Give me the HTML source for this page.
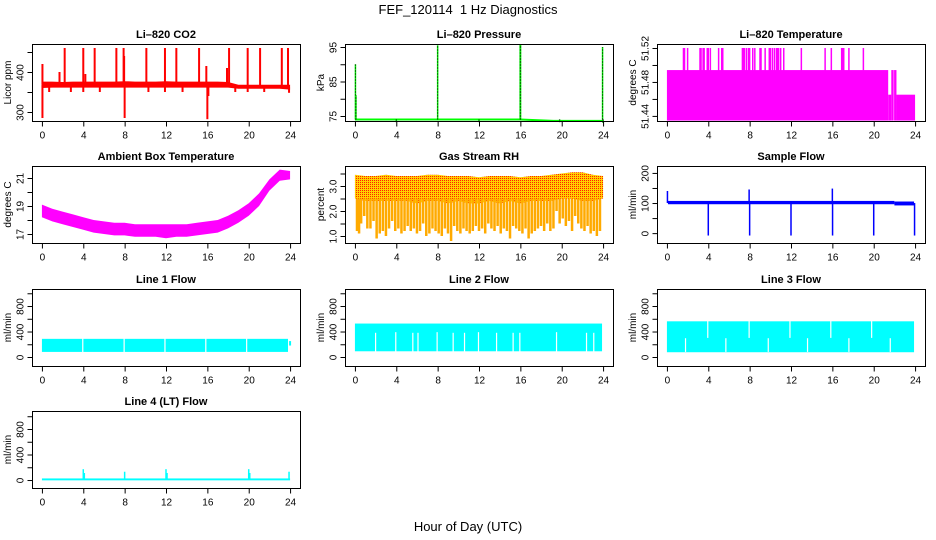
<!DOCTYPE html>
<html><head><meta charset="utf-8"><style>
html,body{margin:0;padding:0;background:#fff}
svg{display:block;font-family:"Liberation Sans",sans-serif}
</style></head><body>
<svg id="chart" width="936" height="540" viewBox="0 0 936 540" xmlns="http://www.w3.org/2000/svg">
<defs>
<pattern id="rhpat" width="2" height="2" patternUnits="userSpaceOnUse">
<rect width="2" height="2" fill="#ffd000"/><rect width="1" height="1" fill="#ff2000"/>
</pattern>
</defs>
<text x="468" y="14" font-size="13" text-anchor="middle">FEF_120114&#160; 1 Hz Diagnostics</text>
<text x="468" y="531" font-size="13" text-anchor="middle">Hour of Day (UTC)</text>
<g id="plots"></g>
</svg>
<script>
// ---- data ----
const xTicks = [0,4,8,12,16,20,24];
const hours = [0,1,2,3,4,5,6,7,8,9,10,11,12,13,14,15,16,17,18,19,20,21,22,23,24];
// CO2
const co2Lo = [360,361,361,361,361,361,361,361,361,361,361,361,361,361,361,361,361,361,361,358,358,358,358,358,356];
const co2Hi = [376,376,375,376,376,376,376,376,377,376,376,376,377,376,376,376,376,376,375,368,368,368,368,368,368];
const co2SpikeT = [0.05,0.05,0.7,1.7,2.2,2.8,4.0,4.0,4.2,5.1,5.6,7.2,7.9,7.95,8.0,10.1,10.3,11.9,11.9,13.0,13.6,15.2,15.9,16.0,16.1,17.9,18.1,18.7,19.9,19.9,21.1,21.5,23.2,23.8,23.9];
const co2SpikeV = [420,285,350,400,460,350,460,350,395,460,350,460,460,440,285,460,350,460,350,460,350,460,415,282,340,410,460,350,460,350,460,350,460,460,348];
// Pressure
const presT = [0,4,8,12,16,19.2,19.8,20.2,24];
const presV = [74.0,74.0,74.0,74.0,74.0,73.6,73.6,73.6,73.6];
const presSpikeT = [0.05,0.1,4.0,8.0,12.0,15.98,16.02,19.8,23.95,24.0];
const presSpikeV = [90,81,73.2,95.5,73.2,95.7,95.7,73.2,95,73];
// Li-820 temperature
const tempSegT0 = [0,21.4,21.7,21.97,22.2];
const tempSegT1 = [21.4,21.7,21.93,22.2,24];
const tempSegV = [51.494,51.465,51.494,51.494,51.465];
const tempSpikeT = [1.6,1.7,2.0,3.2,3.3,3.5,3.6,3.9,4.0,4.2,5.0,5.3,5.4,7.3,7.4,7.5,7.7,7.9,8.0,8.3,8.5,9.0,9.1,9.5,9.9,10.0,10.2,10.4,10.6,10.7,10.8,11.0,11.3,13.0,15.3,15.9,16.9,17.0,17.1,17.6,19.0];
// Ambient box temperature
const ambHi = [19.1,18.8,18.6,18.4,18.2,18.0,17.9,17.8,17.8,17.7,17.7,17.7,17.7,17.7,17.7,17.8,17.9,18.0,18.3,18.7,19.2,19.9,20.9,21.6,21.5];
const ambLo = [18.2,17.9,17.7,17.5,17.3,17.1,17.0,16.9,16.9,16.8,16.8,16.8,16.7,16.8,16.8,16.9,17.0,17.1,17.4,17.8,18.3,19.0,20.1,20.8,20.9];
// Gas stream RH
const rhHi = [3.45,3.4,3.4,3.45,3.4,3.4,3.4,3.45,3.45,3.4,3.4,3.4,3.35,3.4,3.4,3.4,3.35,3.4,3.4,3.45,3.5,3.55,3.55,3.45,3.4];
const rhCore = [2.5,2.4,2.4,2.4,2.4,2.4,2.3,2.4,2.4,2.3,2.4,2.3,2.3,2.4,2.3,2.4,2.3,2.4,2.4,2.4,2.5,2.5,2.4,2.4,2.5];
const rhDipT = [0.2,0.4,0.6,0.9,1.2,1.5,1.8,2.1,2.4,2.7,3.0,3.3,3.6,3.9,4.2,4.5,4.8,5.1,5.4,5.7,6.0,6.3,6.6,6.9,7.2,7.5,7.8,8.1,8.4,8.7,9.0,9.3,9.6,9.9,10.2,10.5,10.8,11.1,11.4,11.7,12.0,12.3,12.6,12.9,13.2,13.5,13.8,14.1,14.4,14.7,15.0,15.3,15.6,15.9,16.2,16.5,16.8,17.1,17.4,17.7,18.0,18.3,18.6,18.9,19.2,19.5,19.8,20.1,20.4,20.7,21.0,21.3,21.6,21.9,22.2,22.5,22.8,23.1,23.4,23.7];
const rhDipV = [1.2,1.1,1.5,1.8,1.3,1.3,1.6,0.9,1.1,1.2,1.0,1.3,1.6,1.2,1.3,1.1,1.2,1.4,1.2,1.3,1.1,1.2,1.5,1.0,1.1,1.3,1.2,1.1,1.0,1.3,1.1,0.8,1.4,1.2,1.1,1.3,1.2,1.1,1.2,1.4,1.2,1.3,1.1,1.5,1.3,1.2,1.4,1.1,1.3,1.2,0.9,1.4,1.3,1.2,1.1,1.3,0.9,1.1,1.2,1.3,1.4,1.2,1.5,1.2,1.3,2.0,1.5,1.7,1.4,1.6,1.2,1.8,1.5,1.3,1.2,1.4,1.1,1.2,1.0,1.2];
// Sample flow
const sfSegT0 = [0.1,22.0];
const sfSegT1 = [22.0,23.9];
const sfSegLo = [96,92];
const sfSegHi = [107,105];
const sfSpikeT = [0.05,4.0,7.95,8.0,12.0,16.0,16.02,20.0,23.95];
const sfSpikeV = [140,-8,145,-8,-8,148,-8,-8,-8];
// Line flows
const l1Lo = 80, l1Hi = 285;
const l1GapT = [3.95,7.95,11.9,15.85,19.8];
const l2Lo = 90, l2Hi = 525;
const l2GapT = [2.0,3.95,5.6,6.1,7.95,9.5,10.6,11.95,13.7,15.3,15.95,19.5,22.4,23.1];
const l2GapTop = [380,390,380,380,390,380,380,390,380,380,380,390,380,380];
const l3Lo = 75, l3Hi = 560;
const l3GapT = [3.95,7.95,11.9,15.85,19.8,1.8,5.7,9.8,13.6,17.6,21.6];
const l3GapBot = [300,300,300,300,300,80,80,80,80,80,80];
const l3GapTop = [560,560,560,560,560,290,290,290,290,290,290];
const l4SpikeT = [4.0,4.1,8.0,12.0,12.1,20.0,20.1,23.9];
const l4SpikeV = [170,110,130,170,110,170,110,130];

// ---- layout ----
const NS = 'http://www.w3.org/2000/svg';
const root = document.getElementById('plots');
const colL = [32,345,657], rowT = [44,166,289,411], W = 268, H = 77;
function mk(tag, attrs, parent){const e=document.createElementNS(NS,tag);for(const k in attrs)e.setAttribute(k,attrs[k]);(parent||root).appendChild(e);return e;}

function panel(name,col,row,title,ylab,ymin,ymax,ticks,labels){
  const g = mk('g',{});
  
  
  const L=colL[col], T=rowT[row];
  const X = t => L + (t+0.96)/25.92*W;
  const Y = v => T + H - (v-ymin)/(ymax-ymin)*H;
  const plot = mk('g',{},g);
  
  
  const fr = mk('rect',{x:L+0.5,y:T+0.5,width:W,height:H,fill:'none',stroke:'#000','stroke-width':1},g);
  
  
  const tt = mk('text',{x:L+W/2,y:T-6,'font-size':11,'font-weight':'bold','text-anchor':'middle'},g);
  
  
  tt.textContent = title;
  const xa = mk('g',{},g);
  
  
  const yb = T+H+0.5;
  mk('line',{x1:X(0),x2:X(24),y1:yb,y2:yb,stroke:'#000'},xa);
  xTicks.forEach(t=>{
    mk('line',{x1:X(t)+0.5,x2:X(t)+0.5,y1:yb,y2:yb+5,stroke:'#000'},xa);
    const lb = mk('text',{x:X(t)+0.5,y:yb+17,'font-size':10,'text-anchor':'middle'},xa);
    
    
    lb.textContent = t;
  });
  const ya = mk('g',{},g);
  
  
  const xl = L+0.5;
  mk('line',{x1:xl,x2:xl,y1:Y(ticks[0]),y2:Y(ticks[ticks.length-1]),stroke:'#000'},ya);
  ticks.forEach((v,i)=>{
    mk('line',{x1:xl-5,x2:xl,y1:Y(v)+0.5,y2:Y(v)+0.5,stroke:'#000'},ya);
    if(labels[i]!==''){
      const lb = mk('text',{x:0,y:0,'font-size':10,'text-anchor':'middle',transform:`translate(${xl-9},${Y(v)+0.5}) rotate(-90)`},ya);
      
      
      lb.textContent = labels[i];
    }
  });
  const yt = mk('text',{x:0,y:0,'font-size':10,'text-anchor':'middle',transform:`translate(${L-21},${T+H/2}) rotate(-90)`},ya);
  
  
  yt.textContent = ylab;
  return {X,Y,g:plot};
}
function seg(p,x1,y1,x2,y2,c,w,extra){const e=mk('line',Object.assign({x1,y1,x2,y2,stroke:c,'stroke-width':w||1},extra||{}),p.g);return e;}
function band(p,ts,lo,hi,fill){
  let d='M'+ts.map((t,i)=>p.X(t)+','+p.Y(hi[i])).join('L');
  for(let i=ts.length-1;i>=0;i--) d+='L'+p.X(ts[i])+','+p.Y(lo[i]);
  const e=mk('path',{d:d+'Z',fill:fill},p.g);
  return e;
}

// CO2
let p = panel('co2-panel',0,0,'Li\u2013820 CO2','Licor ppm',277.5,470,[300,350,400,450],['300','','400','']);
let e = band(p,hours,co2Lo,co2Hi,'#ff0000');

co2SpikeT.forEach((t,i)=>{
  const b=(co2Lo[Math.round(t)]+co2Hi[Math.round(t)])/2;
  const s=seg(p,p.X(t),p.Y(b),p.X(t),p.Y(co2SpikeV[i]),'#ff0000',2);
  
});
// Pressure
p = panel('pressure-panel',1,0,'Li\u2013820 Pressure','kPa',73.55,95.87,[75,80,85,90,95],['75','','85','','95']);
e = mk('polyline',{points:presT.map((t,i)=>p.X(t)+','+p.Y(presV[i])).join(' '),fill:'none',stroke:'#00ff00','stroke-width':2},p.g);

presSpikeT.forEach((t,i)=>{
  const s=seg(p,p.X(t),p.Y(74),p.X(t),p.Y(presSpikeV[i]),'#00ee00',1.5);
  
  const s2=seg(p,p.X(t),p.Y(74),p.X(t),p.Y(presSpikeV[i]),'#000',1,{'stroke-dasharray':'1 2'});
  
});
// Temperature
p = panel('li820-temp-panel',2,0,'Li\u2013820 Temperature','degrees C',51.434,51.5247,[51.44,51.46,51.48,51.50,51.52],['51.44','','51.48','','51.52']);
tempSegV.forEach((v,i)=>{
  const r=mk('rect',{x:p.X(tempSegT0[i]),y:p.Y(v),width:p.X(tempSegT1[i])-p.X(tempSegT0[i]),height:p.Y(51.4345)-p.Y(v),fill:'#ff00ff'},p.g);
  
});
tempSpikeT.forEach(t=>{
  const s=seg(p,p.X(t),p.Y(51.49),p.X(t),p.Y(51.52),'#ff00ff',1.5);
  
});
// Ambient
p = panel('ambient-temp-panel',0,1,'Ambient Box Temperature','degrees C',16.357,21.857,[17,18,19,20,21],['17','','19','','21']);
e = band(p,hours,ambLo,ambHi,'#ff00ff');

// RH
p = panel('rh-panel',1,1,'Gas Stream RH','percent',0.72,3.8,[1.0,1.5,2.0,2.5,3.0,3.5],['1.0','','2.0','','3.0','']);
e = band(p,hours,rhCore,rhHi,'url(#rhpat)');

rhDipT.forEach((t,i)=>{
  const s=seg(p,p.X(t),p.Y(2.5),p.X(t),p.Y(rhDipV[i]),'#ffaa00',2.5);
  
});
// Sample flow
p = panel('sample-flow-panel',2,1,'Sample Flow','ml/min',-32.8,223,[0,50,100,150,200],['0','','100','','200']);
sfSegLo.forEach((v,i)=>{
  const r=mk('rect',{x:p.X(sfSegT0[i]),y:p.Y(sfSegHi[i]),width:p.X(sfSegT1[i])-p.X(sfSegT0[i]),height:p.Y(v)-p.Y(sfSegHi[i]),fill:'#0000ff'},p.g);
  
});
sfSpikeT.forEach((t,i)=>{
  const s=seg(p,p.X(t),p.Y(100),p.X(t),p.Y(sfSpikeV[i]),'#0000ff',1.5);
  
});
const flowTicks=[0,200,400,600,800,1000], flowLabels=['0','','400','','800',''];
// Line 1
p = panel('line1-flow-panel',0,2,'Line 1 Flow','ml/min',-141,1067,flowTicks,flowLabels);
e = mk('rect',{x:p.X(0),y:p.Y(l1Hi),width:p.X(23.8)-p.X(0),height:p.Y(l1Lo)-p.Y(l1Hi),fill:'#00ffff'},p.g);

e = seg(p,p.X(24),p.Y(180),p.X(24),p.Y(250),'#00ffff',2);

l1GapT.forEach(t=>{const s=seg(p,p.X(t),p.Y(l1Lo-5),p.X(t),p.Y(l1Hi+5),'#fff',1.2);
  });
// Line 2
p = panel('line2-flow-panel',1,2,'Line 2 Flow','ml/min',-141,1067,flowTicks,flowLabels);
e = mk('rect',{x:p.X(0),y:p.Y(l2Hi),width:p.X(23.9)-p.X(0),height:p.Y(l2Lo)-p.Y(l2Hi),fill:'#00ffff'},p.g);

l2GapT.forEach((t,i)=>{const s=seg(p,p.X(t),p.Y(l2Lo-5),p.X(t),p.Y(l2GapTop[i]),'#fff',1.2);
  });
// Line 3
p = panel('line3-flow-panel',2,2,'Line 3 Flow','ml/min',-141,1067,flowTicks,flowLabels);
e = mk('rect',{x:p.X(0),y:p.Y(l3Hi),width:p.X(23.9)-p.X(0),height:p.Y(l3Lo)-p.Y(l3Hi),fill:'#00ffff'},p.g);

l3GapT.forEach((t,i)=>{const s=seg(p,p.X(t),p.Y(l3GapBot[i]),p.X(t),p.Y(l3GapTop[i]+5),'#fff',1.2);
  });
// Line 4
p = panel('line4-flow-panel',0,3,'Line 4 (LT) Flow','ml/min',-125,1082,flowTicks,flowLabels);
e = mk('rect',{x:p.X(0),y:p.Y(25),width:p.X(24)-p.X(0),height:p.Y(-5)-p.Y(25),fill:'#00ffff'},p.g);

l4SpikeT.forEach((t,i)=>{const s=seg(p,p.X(t),p.Y(10),p.X(t),p.Y(l4SpikeV[i]),'#00ffff',1.5);
  });
</script>
</body></html>
